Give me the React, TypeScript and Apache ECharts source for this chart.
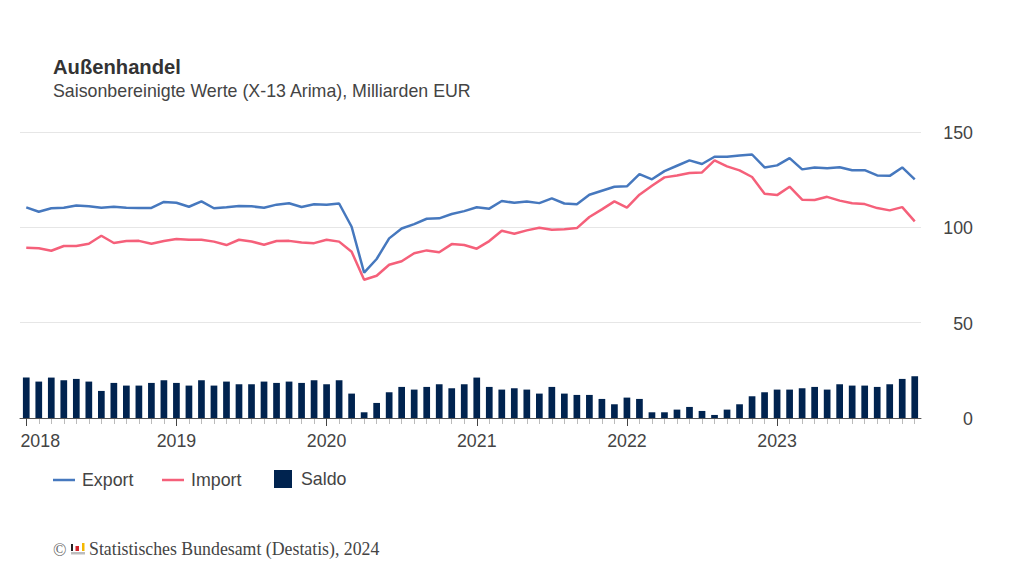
import React, { useEffect, useRef } from "react";
import * as echarts from "echarts";

const years = ["2018", "2019", "2020", "2021", "2022", "2023"];
const months = ["01", "02", "03", "04", "05", "06", "07", "08", "09", "10", "11", "12"];
const categories = years.flatMap((y) => months.map((m) => `${y}-${m}`));

const exportValues = [
  110.5, 108.2, 110, 110.3, 111.5, 111, 110.3, 110.8, 110.3, 110.2, 110.2, 113.3,
  112.9, 110.8, 113.6, 110, 110.5, 111.2, 111, 110.3, 111.9, 112.6, 110.7, 112.1,
  111.8, 112.5, 100.3, 76.2, 83.4, 94.2, 99.4, 101.7, 104.5, 104.7, 107, 108.5,
  110.5, 109.8, 113.8, 112.9, 113.6, 112.7, 115.2, 112.5, 112.1, 117.1, 119.2, 121.3,
  121.5, 127.9, 125.2, 129.5, 132.3, 135.1, 133.2, 137, 137, 137.7, 138.2, 131.4,
  132.5, 136.3, 130.4, 131.4, 131, 131.5, 129.9, 130, 127.2, 127, 131.4, 125.2,
];
const importValues = [
  89.3, 89, 87.7, 90.2, 90.2, 91.4, 95.6, 91.8, 92.8, 92.9, 91.4, 92.8,
  93.9, 93.5, 93.5, 92.5, 90.7, 93.5, 92.6, 90.9, 92.8, 92.9, 92, 91.7,
  93.5, 92.5, 87.2, 72.5, 74.6, 80.4, 82.2, 86.4, 87.9, 86.9, 91.2, 90.7,
  88.8, 92.8, 98.2, 96.6, 98.4, 99.8, 98.7, 99, 99.6, 105.4, 109.4, 113.6,
  110.3, 117.1, 121.8, 126.2, 127.2, 128.5, 128.8, 135.1, 132, 129.9, 126.4, 117.6,
  116.9, 121.3, 114.5, 114.3, 116, 114, 112.6, 112.2, 110.1, 108.9, 110.6, 103.1,
];
const saldoValues = [
  21.2, 19.1, 21.2, 19.8, 20.5, 19.1, 14.2, 18.4, 17, 17, 18.4, 19.8,
  18.4, 17, 19.8, 17, 19.1, 17.7, 17.7, 19.1, 18.4, 19.1, 18.4, 19.8,
  17.7, 19.8, 12.8, 3, 7.9, 13.5, 16.3, 14.9, 16.3, 17.7, 15.6, 17.7,
  21.2, 16.3, 14.9, 15.6, 14.9, 12.8, 16.3, 12.8, 12.1, 12.1, 10, 7.2,
  10.7, 10, 3, 3, 4.4, 5.8, 3.7, 1.6, 4.4, 7.2, 11.4, 13.5,
  14.9, 14.9, 15.6, 16.3, 14.9, 17.7, 17, 17, 16.3, 17.7, 20.5, 21.9,
];
const yTicks = { min: 0, max: 150, interval: 50 };

const titleText = "Außenhandel";
const subtitleText = "Saisonbereinigte Werte (X-13 Arima), Milliarden EUR";
const footerText = "Statistisches Bundesamt (Destatis), 2024";

const EXPORT_COLOR = "#4678BE";
const IMPORT_COLOR = "#F5607A";
const SALDO_COLOR = "#00234F";
const TEXT = "#444444";
const SANS = "Liberation Sans, Arial, sans-serif";
const SERIF = "Liberation Serif, Times New Roman, serif";
const FS = 17.8;

export default function App() {
  const ref = useRef<HTMLDivElement>(null);
  useEffect(() => {
    const chart = echarts.init(ref.current!, undefined, { renderer: "svg" });
    const legendBase = {
      orient: "horizontal",
      selectedMode: false,
      padding: 0,
      itemGap: 0,
      textStyle: { fontFamily: SANS, fontSize: FS, color: TEXT, padding: [2, 0, 0, 2] },
    };
    chart.setOption({
      animation: false,
      backgroundColor: "#fff",
      grid: { left: 20, right: 103, top: 132, height: 286 },
      title: [
        {
          text: titleText,
          left: 53,
          top: 57,
          padding: 0,
          textStyle: { fontFamily: SANS, fontSize: 20.2, fontWeight: "bold", color: "#333" },
        },
        {
          text: subtitleText,
          left: 53,
          top: 82,
          padding: 0,
          textStyle: { fontFamily: SANS, fontSize: FS, fontWeight: "normal", color: TEXT },
        },
      ],
      legend: [
        { ...legendBase, left: 53, top: 471, data: [{ name: "Export", icon: "rect" }], itemWidth: 22, itemHeight: 2.5 },
        { ...legendBase, left: 162, top: 471, data: [{ name: "Import", icon: "rect" }], itemWidth: 22, itemHeight: 2.5 },
        {
          ...legendBase,
          left: 274,
          top: 470,
          data: [{ name: "Saldo", icon: "rect" }],
          itemWidth: 18,
          itemHeight: 18,
          textStyle: { ...legendBase.textStyle, padding: [4, 0, 0, 4] },
        },
      ],
      xAxis: [
        {
          type: "category",
          data: categories.map((c) =>
            c === "2018-01" ? { value: c, textStyle: { padding: [0, 0, 0, 28] } } : c
          ),
          boundaryGap: true,
          axisLine: { lineStyle: { color: "#555", width: 1 } },
          axisTick: {
            show: true,
            alignWithLabel: true,
            length: 8,
            interval: 11,
            lineStyle: { color: "#444", width: 1 },
          },
          axisLabel: {
            interval: 11,
            formatter: (v: string) => v.slice(0, 4),
            hideOverlap: false,
            margin: 14,
            fontFamily: SANS,
            fontSize: FS,
            color: TEXT,
          },
          splitLine: { show: false },
          z: 5,
        },
        {
          type: "category",
          position: "bottom",
          data: categories,
          boundaryGap: true,
          axisLine: { show: false },
          axisTick: {
            show: true,
            alignWithLabel: true,
            length: 6,
            interval: 0,
            lineStyle: { color: "#BBB", width: 1 },
          },
          axisLabel: { show: false },
          splitLine: { show: false },
          z: 4,
        },
      ],
      yAxis: {
        type: "value",
        position: "right",
        min: yTicks.min,
        max: yTicks.max,
        interval: yTicks.interval,
        axisLine: { show: false },
        axisTick: { show: false },
        axisLabel: {
          margin: 52,
          align: "right",
          formatter: "{a|{value}}",
          rich: {
            a: { padding: [2, 0, 0, 0], fontFamily: SANS, fontSize: FS, color: TEXT },
          },
          fontFamily: SANS,
          fontSize: FS,
          color: TEXT,
        },
        splitLine: { lineStyle: { color: "#E6E6E6", width: 1 } },
      },
      series: [
        {
          name: "Saldo",
          type: "bar",
          data: saldoValues,
          barWidth: 6.7,
          itemStyle: { color: SALDO_COLOR },
          z: 2,
        },
        {
          name: "Export",
          type: "line",
          data: exportValues,
          showSymbol: false,
          lineStyle: { color: EXPORT_COLOR, width: 2.5 },
          itemStyle: { color: EXPORT_COLOR },
          z: 3,
        },
        {
          name: "Import",
          type: "line",
          data: importValues,
          showSymbol: false,
          lineStyle: { color: IMPORT_COLOR, width: 2.5 },
          itemStyle: { color: IMPORT_COLOR },
          z: 4,
        },
      ],
      graphic: [
        { type: "text", x: 53, y: 541, style: { text: "©", font: `${FS}px ${SERIF}`, fill: "#666" } },
        { type: "rect", shape: { x: 71, y: 552, width: 14, height: 2.5 }, style: { fill: "#BDBDBD" } },
        { type: "rect", shape: { x: 71, y: 544, width: 2, height: 7 }, style: { fill: "#222" } },
        { type: "rect", shape: { x: 75.5, y: 546, width: 3.5, height: 5 }, style: { fill: "#D2232A" } },
        { type: "rect", shape: { x: 82, y: 543, width: 2.5, height: 8 }, style: { fill: "#F5B800" } },
        { type: "text", x: 89, y: 540, style: { text: footerText, font: `${FS}px ${SERIF}`, fill: "#444" } },
      ],
    });
    return () => chart.dispose();
  }, []);
  return <div ref={ref} style={{ position: "fixed", left: 0, top: 0, width: 1024, height: 576 }} />;
}
